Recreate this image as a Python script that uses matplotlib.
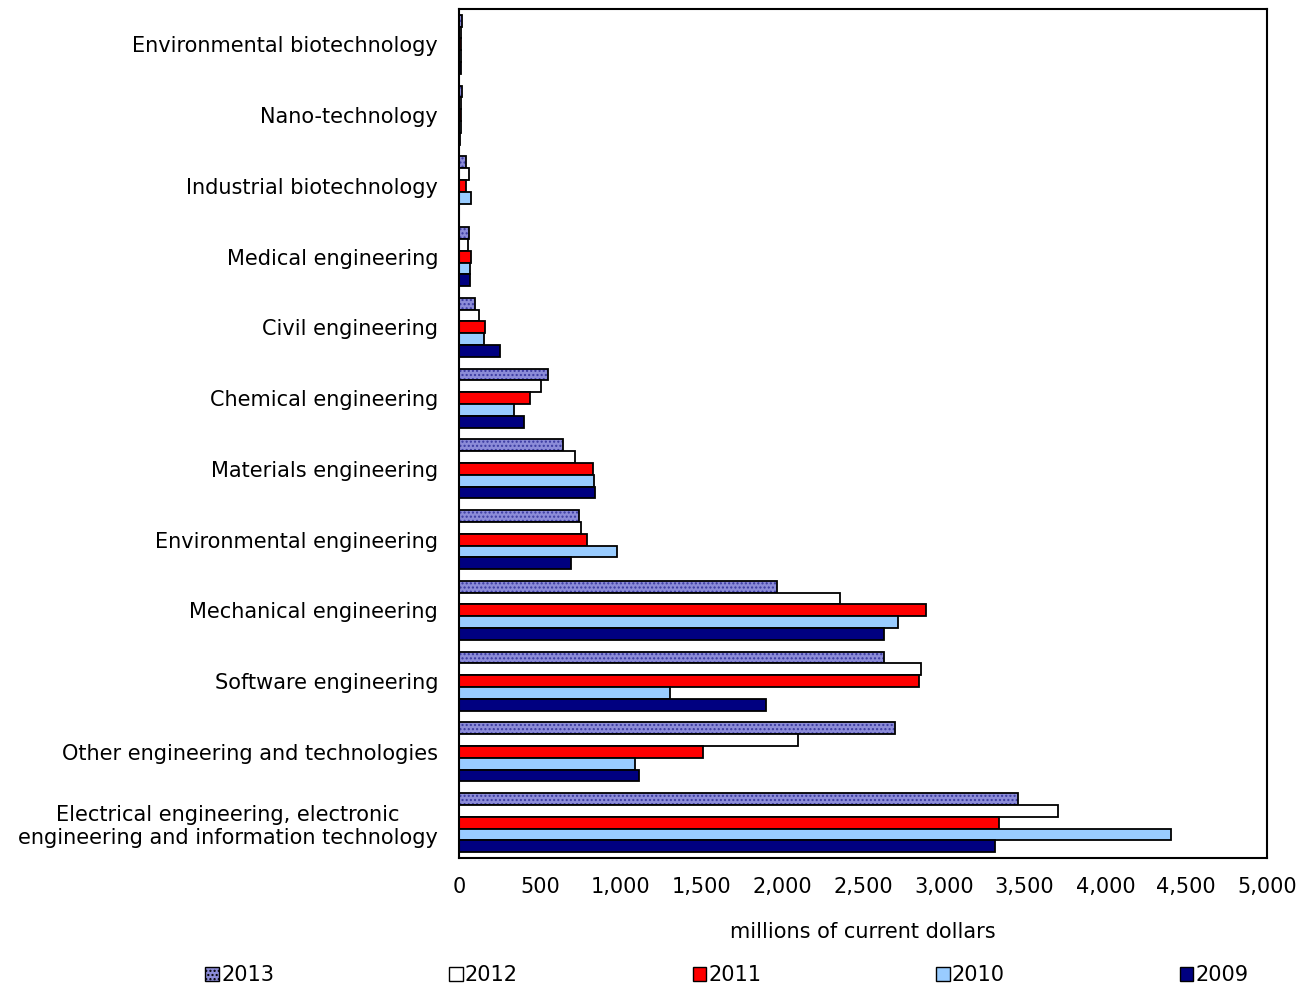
import matplotlib
matplotlib.use("Agg")
import matplotlib.pyplot as plt
import numpy as np
from matplotlib.patches import Patch

categories = [
    "Environmental biotechnology",
    "Nano-technology",
    "Industrial biotechnology",
    "Medical engineering",
    "Civil engineering",
    "Chemical engineering",
    "Materials engineering",
    "Environmental engineering",
    "Mechanical engineering",
    "Software engineering",
    "Other engineering and technologies",
    "Electrical engineering, electronic\nengineering and information technology",
]
years = ["2013", "2012", "2011", "2010", "2009"]

v2013 = [18, 18, 41, 62, 99, 551, 644, 743, 1968, 2630, 2698, 3459]
v2012 = [14, 10, 64, 56, 124, 507, 718, 755, 2358, 2859, 2098, 3707]
v2011 = [15, 10, 41, 76, 161, 439, 829, 792, 2890, 2847, 1510, 3342]
v2010 = [14, 10, 76, 70, 155, 340, 835, 978, 2717, 1306, 1089, 4406]
v2009 = [10, 5, 0, 66, 254, 402, 842, 693, 2630, 1900, 1114, 3317]
series = [v2013, v2012, v2011, v2010, v2009]

x_ticks = [0, 500, 1000, 1500, 2000, 2500, 3000, 3500, 4000, 4500, 5000]

facecolors = ["#8C8CD8", "#FFFFFF", "#FF0000", "#99CCFF", "#000080"]

plt.rcParams['font.family'] = ['DejaVu Sans']
plt.rcParams['hatch.color'] = '#3A3AA0'
plt.rcParams['hatch.linewidth'] = 1.0

FS = 15

fig = plt.figure(figsize=(13.16, 9.9), dpi=100)
ax = fig.add_axes([459/1316, 1-858/990, (1267-459)/1316, (858-9)/990])

y = np.arange(len(categories))
h = 0.167
for i, (yr, vals) in enumerate(zip(years, series)):
    off = (i - 2) * h
    if i == 0:
        ax.barh(y + off, vals, height=h, color=facecolors[i], hatch='....',
                edgecolor='#3A3AA0', linewidth=0)
        ax.barh(y + off, vals, height=h, fill=False, edgecolor='black', linewidth=1.3)
    else:
        ax.barh(y + off, vals, height=h, color=facecolors[i],
                edgecolor='black', linewidth=1.3)

ax.set_ylim(len(categories) - 0.5, -0.5)
ax.set_xlim(0, 5000)
ax.set_xticks(x_ticks)
ax.set_xticklabels([f"{t:,}" for t in x_ticks], fontsize=FS)
ax.set_yticks(y)
ax.set_yticklabels(categories, fontsize=FS, multialignment='center')
ax.tick_params(axis='x', length=0, pad=14)
ax.tick_params(axis='y', length=0, pad=15)
for s in ax.spines.values():
    s.set_linewidth(1.5)
    s.set_color('black')
ax.set_xlabel("millions of current dollars", fontsize=FS, labelpad=18)

handles = []
for i, yr in enumerate(years):
    if i == 0:
        handles.append(Patch(facecolor=facecolors[i], hatch='....', edgecolor='black', label=yr))
    else:
        handles.append(Patch(facecolor=facecolors[i], edgecolor='black', label=yr))
fig.legend(handles=handles, loc='center', bbox_to_anchor=(727/1316, 1-975/990),
           ncol=5, frameon=False, fontsize=FS, handlelength=0.65, handleheight=0.65,
           handletextpad=0.1, columnspacing=8.4)

fig.savefig("out.png", dpi=100)
